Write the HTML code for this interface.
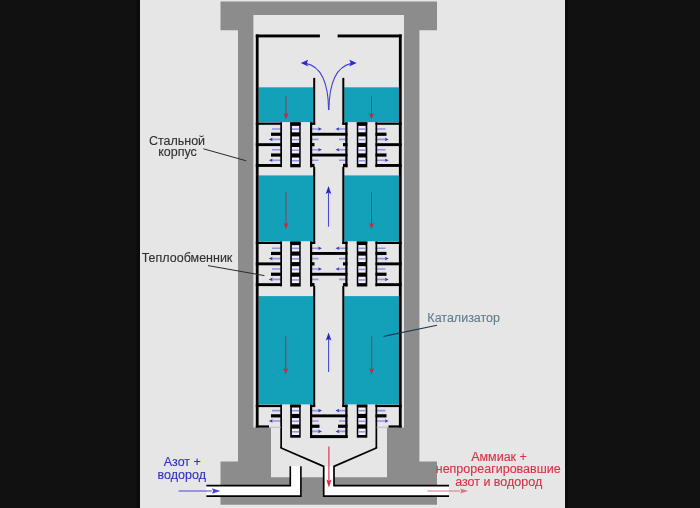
<!DOCTYPE html>
<html><head><meta charset="utf-8"><style>
html,body{margin:0;padding:0;background:#111111;}
svg{display:block;will-change:transform;}
text{font-family:"Liberation Sans",sans-serif;}
</style></head><body>
<svg width="700" height="508" viewBox="0 0 700 508">
<rect x="0" y="0" width="700" height="508" fill="#111111"/>
<rect x="136.5" y="0" width="3.5" height="508" fill="#0b0b0b"/>
<rect x="565" y="0" width="3" height="508" fill="#0c0c0c"/>
<rect x="140" y="0" width="425" height="508" fill="#e6e6e6"/>
<!-- gray shell -->
<path d="M220.5,1.5 H437 V30.3 H419.4 V461.4 H437 V504.7 H220.5 V461.4 H238 V30.3 H220.5 Z" fill="#8c8c8c"/>
<path d="M253.4,14.9 H404 V427.6 H387 V477.3 H271 V427.6 H253.4 Z" fill="#e6e6e6"/>
<!-- pipes -->
<rect x="206.4" y="485.6" width="94.5" height="10.5" fill="#fff"/>
<rect x="290.3" y="466.2" width="10.6" height="30" fill="#fff"/>
<rect x="323.7" y="466.3" width="10.3" height="30" fill="#fff"/>
<rect x="323.7" y="485.6" width="125.3" height="10.5" fill="#fff"/>
<polyline points="290.3,466.2 290.3,485.6 206.4,485.6" fill="none" stroke="#000" stroke-width="1.6"/>
<polyline points="300.9,466.2 300.9,496.1 206.4,496.1" fill="none" stroke="#000" stroke-width="1.6"/>
<polyline points="281.15,447 281.15,448 323.7,466.4 323.7,496.1 449,496.1" fill="none" stroke="#000" stroke-width="1.7"/>
<polyline points="376.35,447 376.35,448 334,466.4 334,485.6 449,485.6" fill="none" stroke="#000" stroke-width="1.7"/>
<g id="L">
<rect x="258.60" y="87.30" width="54.70" height="35.00" fill="#13a1ba"/>
<rect x="258.60" y="175.40" width="54.70" height="66.10" fill="#13a1ba"/>
<rect x="258.60" y="296.10" width="54.70" height="108.50" fill="#13a1ba"/>
<rect x="255.80" y="34.50" width="2.80" height="392.90" fill="#000"/>
<rect x="255.80" y="34.50" width="64.10" height="2.90" fill="#000"/>
<rect x="313.20" y="77.90" width="2.00" height="46.60" fill="#000"/>
<rect x="313.20" y="166.80" width="2.00" height="76.90" fill="#000"/>
<rect x="313.20" y="285.80" width="2.00" height="121.00" fill="#000"/>
<line x1="286.00" y1="96.00" x2="286.00" y2="114.60" stroke="#8a3a58" stroke-width="1.0"/><path d="M286.00,119.60 L283.40,113.10 L286.00,114.60 L288.60,113.10 Z" fill="#c42a44"/>
<line x1="286.00" y1="192.00" x2="286.00" y2="224.30" stroke="#8a3a58" stroke-width="1.0"/><path d="M286.00,229.30 L283.40,222.80 L286.00,224.30 L288.60,222.80 Z" fill="#c42a44"/>
<line x1="285.80" y1="336.20" x2="285.80" y2="369.60" stroke="#8a3a58" stroke-width="1.0"/><path d="M285.80,374.60 L283.20,368.10 L285.80,369.60 L288.40,368.10 Z" fill="#c42a44"/>
<line x1="272" y1="129.00" x2="319" y2="129.00" stroke="#9494e4" stroke-width="1.6"/>
<path d="M322,129.00 L318.2,127.20 L318.8,129.00 L318.2,130.80 Z" fill="#3a3ab4"/>
<line x1="318.5" y1="139.40" x2="272" y2="139.40" stroke="#9494e4" stroke-width="1.6"/>
<path d="M268.8,139.40 L272.6,137.60 L272,139.40 L272.6,141.20 Z" fill="#3a3ab4"/>
<line x1="272" y1="149.80" x2="319" y2="149.80" stroke="#9494e4" stroke-width="1.6"/>
<path d="M322,149.80 L318.2,148.00 L318.8,149.80 L318.2,151.60 Z" fill="#3a3ab4"/>
<line x1="318.5" y1="160.20" x2="272" y2="160.20" stroke="#9494e4" stroke-width="1.6"/>
<path d="M268.8,160.20 L272.6,158.40 L272,160.20 L272.6,162.00 Z" fill="#3a3ab4"/>
<rect x="282.00" y="122.30" width="8.20" height="45.00" fill="#e6e6e6"/>
<rect x="300.70" y="122.30" width="9.30" height="45.00" fill="#e6e6e6"/>
<rect x="255.80" y="122.60" width="26.20" height="2.20" fill="#000"/>
<rect x="290.20" y="122.60" width="10.50" height="2.20" fill="#000"/>
<rect x="310.00" y="122.60" width="5.20" height="2.20" fill="#000"/>
<rect x="280.30" y="122.30" width="1.70" height="44.80" fill="#000"/>
<rect x="290.20" y="122.30" width="10.50" height="45.00" fill="#000"/>
<rect x="291.90" y="125.90" width="7.30" height="6.40" fill="#f2f2f8"/>
<line x1="291.9" y1="129.10" x2="299.2" y2="129.10" stroke="#9494e4" stroke-width="1.6"/>
<rect x="291.90" y="136.45" width="7.30" height="6.40" fill="#f2f2f8"/>
<line x1="291.9" y1="139.65" x2="299.2" y2="139.65" stroke="#9494e4" stroke-width="1.6"/>
<rect x="291.90" y="147.00" width="7.30" height="6.40" fill="#f2f2f8"/>
<line x1="291.9" y1="150.20" x2="299.2" y2="150.20" stroke="#9494e4" stroke-width="1.6"/>
<rect x="291.90" y="157.55" width="7.30" height="6.40" fill="#f2f2f8"/>
<line x1="291.9" y1="160.75" x2="299.2" y2="160.75" stroke="#9494e4" stroke-width="1.6"/>
<rect x="310.00" y="122.30" width="2.20" height="45.00" fill="#000"/>
<rect x="271.00" y="132.65" width="11.00" height="3.20" fill="#000"/>
<rect x="255.80" y="143.20" width="26.20" height="2.90" fill="#000"/>
<rect x="310.00" y="143.05" width="4.50" height="3.20" fill="#000"/>
<rect x="271.00" y="153.45" width="11.00" height="3.20" fill="#000"/>
<rect x="255.80" y="164.00" width="26.20" height="2.90" fill="#000"/>
<rect x="310.00" y="163.85" width="4.50" height="3.20" fill="#000"/>
<line x1="272" y1="248.20" x2="319" y2="248.20" stroke="#9494e4" stroke-width="1.6"/>
<path d="M322,248.20 L318.2,246.40 L318.8,248.20 L318.2,250.00 Z" fill="#3a3ab4"/>
<line x1="318.5" y1="258.60" x2="272" y2="258.60" stroke="#9494e4" stroke-width="1.6"/>
<path d="M268.8,258.60 L272.6,256.80 L272,258.60 L272.6,260.40 Z" fill="#3a3ab4"/>
<line x1="272" y1="269.00" x2="319" y2="269.00" stroke="#9494e4" stroke-width="1.6"/>
<path d="M322,269.00 L318.2,267.20 L318.8,269.00 L318.2,270.80 Z" fill="#3a3ab4"/>
<line x1="318.5" y1="279.40" x2="272" y2="279.40" stroke="#9494e4" stroke-width="1.6"/>
<path d="M268.8,279.40 L272.6,277.60 L272,279.40 L272.6,281.20 Z" fill="#3a3ab4"/>
<rect x="282.00" y="241.50" width="8.20" height="45.00" fill="#e6e6e6"/>
<rect x="300.70" y="241.50" width="9.30" height="45.00" fill="#e6e6e6"/>
<rect x="255.80" y="241.80" width="26.20" height="2.20" fill="#000"/>
<rect x="290.20" y="241.80" width="10.50" height="2.20" fill="#000"/>
<rect x="310.00" y="241.80" width="5.20" height="2.20" fill="#000"/>
<rect x="280.30" y="241.50" width="1.70" height="44.80" fill="#000"/>
<rect x="290.20" y="241.50" width="10.50" height="45.00" fill="#000"/>
<rect x="291.90" y="245.10" width="7.30" height="6.40" fill="#f2f2f8"/>
<line x1="291.9" y1="248.30" x2="299.2" y2="248.30" stroke="#9494e4" stroke-width="1.6"/>
<rect x="291.90" y="255.65" width="7.30" height="6.40" fill="#f2f2f8"/>
<line x1="291.9" y1="258.85" x2="299.2" y2="258.85" stroke="#9494e4" stroke-width="1.6"/>
<rect x="291.90" y="266.20" width="7.30" height="6.40" fill="#f2f2f8"/>
<line x1="291.9" y1="269.40" x2="299.2" y2="269.40" stroke="#9494e4" stroke-width="1.6"/>
<rect x="291.90" y="276.75" width="7.30" height="6.40" fill="#f2f2f8"/>
<line x1="291.9" y1="279.95" x2="299.2" y2="279.95" stroke="#9494e4" stroke-width="1.6"/>
<rect x="310.00" y="241.50" width="2.20" height="45.00" fill="#000"/>
<rect x="271.00" y="251.85" width="11.00" height="3.20" fill="#000"/>
<rect x="255.80" y="262.40" width="26.20" height="2.90" fill="#000"/>
<rect x="310.00" y="262.25" width="4.50" height="3.20" fill="#000"/>
<rect x="271.00" y="272.65" width="11.00" height="3.20" fill="#000"/>
<rect x="255.80" y="283.20" width="26.20" height="2.90" fill="#000"/>
<rect x="310.00" y="283.05" width="4.50" height="3.20" fill="#000"/>
<line x1="272" y1="410.60" x2="319" y2="410.60" stroke="#9494e4" stroke-width="1.6"/>
<path d="M322,410.60 L318.2,408.80 L318.8,410.60 L318.2,412.40 Z" fill="#3a3ab4"/>
<line x1="318.5" y1="421.00" x2="272" y2="421.00" stroke="#9494e4" stroke-width="1.6"/>
<path d="M268.8,421.00 L272.6,419.20 L272,421.00 L272.6,422.80 Z" fill="#3a3ab4"/>
<line x1="283" y1="431.40" x2="319" y2="431.40" stroke="#9494e4" stroke-width="1.6"/>
<path d="M322,431.40 L318.2,429.60 L318.8,431.40 L318.2,433.20 Z" fill="#3a3ab4"/>
<rect x="282.00" y="404.60" width="8.20" height="33.10" fill="#e6e6e6"/>
<rect x="300.70" y="404.60" width="9.30" height="33.10" fill="#e6e6e6"/>
<rect x="255.80" y="404.90" width="26.20" height="2.20" fill="#000"/>
<rect x="290.20" y="404.90" width="10.50" height="2.20" fill="#000"/>
<rect x="310.00" y="404.90" width="5.20" height="2.20" fill="#000"/>
<rect x="280.30" y="404.60" width="1.70" height="43.40" fill="#000"/>
<rect x="290.20" y="404.60" width="10.50" height="33.10" fill="#000"/>
<rect x="291.90" y="407.50" width="7.30" height="6.40" fill="#f2f2f8"/>
<line x1="291.9" y1="410.70" x2="299.2" y2="410.70" stroke="#9494e4" stroke-width="1.6"/>
<rect x="291.90" y="418.05" width="7.30" height="6.40" fill="#f2f2f8"/>
<line x1="291.9" y1="421.25" x2="299.2" y2="421.25" stroke="#9494e4" stroke-width="1.6"/>
<rect x="291.90" y="428.60" width="7.30" height="6.40" fill="#f2f2f8"/>
<line x1="291.9" y1="431.80" x2="299.2" y2="431.80" stroke="#9494e4" stroke-width="1.6"/>
<rect x="310.00" y="404.60" width="2.20" height="33.10" fill="#000"/>
<rect x="271.00" y="414.25" width="11.00" height="3.20" fill="#000"/>
<rect x="310.00" y="424.65" width="9.50" height="3.20" fill="#000"/>
<rect x="255.80" y="425.40" width="13.20" height="2.20" fill="#000"/>
<rect x="269.00" y="426.80" width="12.00" height="0.80" fill="#b4b4b4"/>
</g>
<g transform="translate(657.5,0) scale(-1,1)">
<rect x="258.60" y="87.30" width="54.70" height="35.00" fill="#13a1ba"/>
<rect x="258.60" y="175.40" width="54.70" height="66.10" fill="#13a1ba"/>
<rect x="258.60" y="296.10" width="54.70" height="108.50" fill="#13a1ba"/>
<rect x="255.80" y="34.50" width="2.80" height="392.90" fill="#000"/>
<rect x="255.80" y="34.50" width="64.10" height="2.90" fill="#000"/>
<rect x="313.20" y="77.90" width="2.00" height="46.60" fill="#000"/>
<rect x="313.20" y="166.80" width="2.00" height="76.90" fill="#000"/>
<rect x="313.20" y="285.80" width="2.00" height="121.00" fill="#000"/>
<line x1="286.00" y1="96.00" x2="286.00" y2="114.60" stroke="#8a3a58" stroke-width="1.0"/><path d="M286.00,119.60 L283.40,113.10 L286.00,114.60 L288.60,113.10 Z" fill="#c42a44"/>
<line x1="286.00" y1="192.00" x2="286.00" y2="224.30" stroke="#8a3a58" stroke-width="1.0"/><path d="M286.00,229.30 L283.40,222.80 L286.00,224.30 L288.60,222.80 Z" fill="#c42a44"/>
<line x1="285.80" y1="336.20" x2="285.80" y2="369.60" stroke="#8a3a58" stroke-width="1.0"/><path d="M285.80,374.60 L283.20,368.10 L285.80,369.60 L288.40,368.10 Z" fill="#c42a44"/>
<line x1="272" y1="129.00" x2="319" y2="129.00" stroke="#9494e4" stroke-width="1.6"/>
<path d="M322,129.00 L318.2,127.20 L318.8,129.00 L318.2,130.80 Z" fill="#3a3ab4"/>
<line x1="318.5" y1="139.40" x2="272" y2="139.40" stroke="#9494e4" stroke-width="1.6"/>
<path d="M268.8,139.40 L272.6,137.60 L272,139.40 L272.6,141.20 Z" fill="#3a3ab4"/>
<line x1="272" y1="149.80" x2="319" y2="149.80" stroke="#9494e4" stroke-width="1.6"/>
<path d="M322,149.80 L318.2,148.00 L318.8,149.80 L318.2,151.60 Z" fill="#3a3ab4"/>
<line x1="318.5" y1="160.20" x2="272" y2="160.20" stroke="#9494e4" stroke-width="1.6"/>
<path d="M268.8,160.20 L272.6,158.40 L272,160.20 L272.6,162.00 Z" fill="#3a3ab4"/>
<rect x="282.00" y="122.30" width="8.20" height="45.00" fill="#e6e6e6"/>
<rect x="300.70" y="122.30" width="9.30" height="45.00" fill="#e6e6e6"/>
<rect x="255.80" y="122.60" width="26.20" height="2.20" fill="#000"/>
<rect x="290.20" y="122.60" width="10.50" height="2.20" fill="#000"/>
<rect x="310.00" y="122.60" width="5.20" height="2.20" fill="#000"/>
<rect x="280.30" y="122.30" width="1.70" height="44.80" fill="#000"/>
<rect x="290.20" y="122.30" width="10.50" height="45.00" fill="#000"/>
<rect x="291.90" y="125.90" width="7.30" height="6.40" fill="#f2f2f8"/>
<line x1="291.9" y1="129.10" x2="299.2" y2="129.10" stroke="#9494e4" stroke-width="1.6"/>
<rect x="291.90" y="136.45" width="7.30" height="6.40" fill="#f2f2f8"/>
<line x1="291.9" y1="139.65" x2="299.2" y2="139.65" stroke="#9494e4" stroke-width="1.6"/>
<rect x="291.90" y="147.00" width="7.30" height="6.40" fill="#f2f2f8"/>
<line x1="291.9" y1="150.20" x2="299.2" y2="150.20" stroke="#9494e4" stroke-width="1.6"/>
<rect x="291.90" y="157.55" width="7.30" height="6.40" fill="#f2f2f8"/>
<line x1="291.9" y1="160.75" x2="299.2" y2="160.75" stroke="#9494e4" stroke-width="1.6"/>
<rect x="310.00" y="122.30" width="2.20" height="45.00" fill="#000"/>
<rect x="271.00" y="132.65" width="11.00" height="3.20" fill="#000"/>
<rect x="255.80" y="143.20" width="26.20" height="2.90" fill="#000"/>
<rect x="310.00" y="143.05" width="4.50" height="3.20" fill="#000"/>
<rect x="271.00" y="153.45" width="11.00" height="3.20" fill="#000"/>
<rect x="255.80" y="164.00" width="26.20" height="2.90" fill="#000"/>
<rect x="310.00" y="163.85" width="4.50" height="3.20" fill="#000"/>
<line x1="272" y1="248.20" x2="319" y2="248.20" stroke="#9494e4" stroke-width="1.6"/>
<path d="M322,248.20 L318.2,246.40 L318.8,248.20 L318.2,250.00 Z" fill="#3a3ab4"/>
<line x1="318.5" y1="258.60" x2="272" y2="258.60" stroke="#9494e4" stroke-width="1.6"/>
<path d="M268.8,258.60 L272.6,256.80 L272,258.60 L272.6,260.40 Z" fill="#3a3ab4"/>
<line x1="272" y1="269.00" x2="319" y2="269.00" stroke="#9494e4" stroke-width="1.6"/>
<path d="M322,269.00 L318.2,267.20 L318.8,269.00 L318.2,270.80 Z" fill="#3a3ab4"/>
<line x1="318.5" y1="279.40" x2="272" y2="279.40" stroke="#9494e4" stroke-width="1.6"/>
<path d="M268.8,279.40 L272.6,277.60 L272,279.40 L272.6,281.20 Z" fill="#3a3ab4"/>
<rect x="282.00" y="241.50" width="8.20" height="45.00" fill="#e6e6e6"/>
<rect x="300.70" y="241.50" width="9.30" height="45.00" fill="#e6e6e6"/>
<rect x="255.80" y="241.80" width="26.20" height="2.20" fill="#000"/>
<rect x="290.20" y="241.80" width="10.50" height="2.20" fill="#000"/>
<rect x="310.00" y="241.80" width="5.20" height="2.20" fill="#000"/>
<rect x="280.30" y="241.50" width="1.70" height="44.80" fill="#000"/>
<rect x="290.20" y="241.50" width="10.50" height="45.00" fill="#000"/>
<rect x="291.90" y="245.10" width="7.30" height="6.40" fill="#f2f2f8"/>
<line x1="291.9" y1="248.30" x2="299.2" y2="248.30" stroke="#9494e4" stroke-width="1.6"/>
<rect x="291.90" y="255.65" width="7.30" height="6.40" fill="#f2f2f8"/>
<line x1="291.9" y1="258.85" x2="299.2" y2="258.85" stroke="#9494e4" stroke-width="1.6"/>
<rect x="291.90" y="266.20" width="7.30" height="6.40" fill="#f2f2f8"/>
<line x1="291.9" y1="269.40" x2="299.2" y2="269.40" stroke="#9494e4" stroke-width="1.6"/>
<rect x="291.90" y="276.75" width="7.30" height="6.40" fill="#f2f2f8"/>
<line x1="291.9" y1="279.95" x2="299.2" y2="279.95" stroke="#9494e4" stroke-width="1.6"/>
<rect x="310.00" y="241.50" width="2.20" height="45.00" fill="#000"/>
<rect x="271.00" y="251.85" width="11.00" height="3.20" fill="#000"/>
<rect x="255.80" y="262.40" width="26.20" height="2.90" fill="#000"/>
<rect x="310.00" y="262.25" width="4.50" height="3.20" fill="#000"/>
<rect x="271.00" y="272.65" width="11.00" height="3.20" fill="#000"/>
<rect x="255.80" y="283.20" width="26.20" height="2.90" fill="#000"/>
<rect x="310.00" y="283.05" width="4.50" height="3.20" fill="#000"/>
<line x1="272" y1="410.60" x2="319" y2="410.60" stroke="#9494e4" stroke-width="1.6"/>
<path d="M322,410.60 L318.2,408.80 L318.8,410.60 L318.2,412.40 Z" fill="#3a3ab4"/>
<line x1="318.5" y1="421.00" x2="272" y2="421.00" stroke="#9494e4" stroke-width="1.6"/>
<path d="M268.8,421.00 L272.6,419.20 L272,421.00 L272.6,422.80 Z" fill="#3a3ab4"/>
<line x1="283" y1="431.40" x2="319" y2="431.40" stroke="#9494e4" stroke-width="1.6"/>
<path d="M322,431.40 L318.2,429.60 L318.8,431.40 L318.2,433.20 Z" fill="#3a3ab4"/>
<rect x="282.00" y="404.60" width="8.20" height="33.10" fill="#e6e6e6"/>
<rect x="300.70" y="404.60" width="9.30" height="33.10" fill="#e6e6e6"/>
<rect x="255.80" y="404.90" width="26.20" height="2.20" fill="#000"/>
<rect x="290.20" y="404.90" width="10.50" height="2.20" fill="#000"/>
<rect x="310.00" y="404.90" width="5.20" height="2.20" fill="#000"/>
<rect x="280.30" y="404.60" width="1.70" height="43.40" fill="#000"/>
<rect x="290.20" y="404.60" width="10.50" height="33.10" fill="#000"/>
<rect x="291.90" y="407.50" width="7.30" height="6.40" fill="#f2f2f8"/>
<line x1="291.9" y1="410.70" x2="299.2" y2="410.70" stroke="#9494e4" stroke-width="1.6"/>
<rect x="291.90" y="418.05" width="7.30" height="6.40" fill="#f2f2f8"/>
<line x1="291.9" y1="421.25" x2="299.2" y2="421.25" stroke="#9494e4" stroke-width="1.6"/>
<rect x="291.90" y="428.60" width="7.30" height="6.40" fill="#f2f2f8"/>
<line x1="291.9" y1="431.80" x2="299.2" y2="431.80" stroke="#9494e4" stroke-width="1.6"/>
<rect x="310.00" y="404.60" width="2.20" height="33.10" fill="#000"/>
<rect x="271.00" y="414.25" width="11.00" height="3.20" fill="#000"/>
<rect x="310.00" y="424.65" width="9.50" height="3.20" fill="#000"/>
<rect x="255.80" y="425.40" width="13.20" height="2.20" fill="#000"/>
<rect x="269.00" y="426.80" width="12.00" height="0.80" fill="#b4b4b4"/>
</g>
<rect x="310.00" y="132.80" width="37.50" height="2.90" fill="#000"/>
<rect x="310.00" y="153.60" width="37.50" height="2.90" fill="#000"/>
<rect x="310.00" y="252.00" width="37.50" height="2.90" fill="#000"/>
<rect x="310.00" y="272.80" width="37.50" height="2.90" fill="#000"/>
<rect x="310.00" y="414.40" width="37.50" height="2.90" fill="#000"/>
<rect x="310.00" y="435.20" width="37.50" height="2.90" fill="#000"/>
<rect x="310.00" y="435.40" width="37.50" height="2.40" fill="#000"/>
<!-- upper curved arrows -->
<path d="M328.6,110 Q328.2,68 306,63.4" fill="none" stroke="#4444d4" stroke-width="1.1"/>
<path d="M300.8,63 L308.2,59.8 L306.6,63.4 L308.4,66.6 Z" fill="#2a2ad0"/>
<path d="M328.9,110 Q329.3,68 351.5,63.4" fill="none" stroke="#4444d4" stroke-width="1.1"/>
<path d="M356.7,63 L349.3,59.8 L350.9,63.4 L349.1,66.6 Z" fill="#2a2ad0"/>
<!-- central up arrows -->
<line x1="328.50" y1="226.70" x2="328.50" y2="192.50" stroke="#4a4ad4" stroke-width="1.1"/><path d="M328.50,186.00 L325.70,194.00 L328.50,192.50 L331.30,194.00 Z" fill="#2626c4"/>
<line x1="328.60" y1="372.00" x2="328.60" y2="338.90" stroke="#4a4ad4" stroke-width="1.1"/><path d="M328.60,332.40 L325.80,340.40 L328.60,338.90 L331.40,340.40 Z" fill="#2626c4"/>
<!-- outlet red -->
<line x1="328.90" y1="446.40" x2="328.90" y2="481.10" stroke="#d8283c" stroke-width="1.1"/><path d="M328.90,487.60 L326.30,479.60 L328.90,481.10 L331.50,479.60 Z" fill="#d8283c"/>
<line x1="427.50" y1="491.00" x2="460.20" y2="491.00" stroke="#e27080" stroke-width="1.1"/><path d="M468.20,491.00 L460.20,488.40 L461.40,491.00 L460.20,493.60 Z" fill="#e27080"/>
<line x1="178.60" y1="491.00" x2="211.90" y2="491.00" stroke="#4646d8" stroke-width="1.2"/><path d="M220.40,491.00 L211.90,488.20 L213.10,491.00 L211.90,493.80 Z" fill="#4646d8"/>
<!-- leader lines -->
<line x1="203.4" y1="148.8" x2="246.3" y2="160.8" stroke="#2a2a2a" stroke-width="1.0"/>
<line x1="208" y1="265.6" x2="264.4" y2="275.6" stroke="#2a2a2a" stroke-width="1.0"/>
<line x1="437" y1="325.3" x2="383.6" y2="336.4" stroke="#1e3c4c" stroke-width="1.1"/>
<!-- labels -->
<g font-size="12.5" text-anchor="middle">
<text x="177" y="144.6" fill="#303030" stroke="#303030" stroke-width="0.12">Стальной</text>
<text x="177.5" y="156" fill="#303030" stroke="#303030" stroke-width="0.12">корпус</text>
<text x="187" y="262" fill="#303030" stroke="#303030" stroke-width="0.12">Теплообменник</text>
<text x="463.7" y="321.8" fill="#5c7d8a" stroke="#5c7d8a" stroke-width="0.1">Катализатор</text>
<text x="182.3" y="466.1" fill="#3232c2" stroke="#3232c2" stroke-width="0.15">Азот +</text>
<text x="181.8" y="478.8" fill="#3232c2" stroke="#3232c2" stroke-width="0.15">водород</text>
<text x="499" y="460.8" fill="#dc3048" stroke="#dc3048" stroke-width="0.12">Аммиак +</text>
<text x="498.2" y="473.2" fill="#dc3048" stroke="#dc3048" stroke-width="0.12">непрореагировавшие</text>
<text x="498.7" y="486.1" fill="#dc3048" stroke="#dc3048" stroke-width="0.12">азот и водород</text>
</g>
</svg>
</body></html>
